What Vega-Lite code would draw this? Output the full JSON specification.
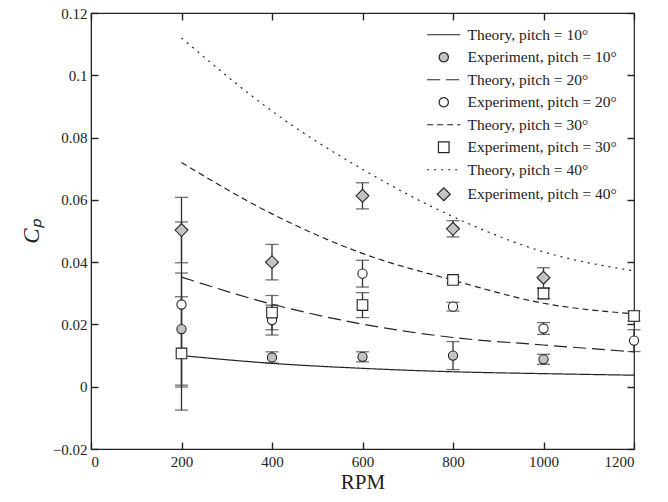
{
  "$schema": "https://vega.github.io/schema/vega-lite/v6.json",
  "autosize": {"type": "none"},
  "padding": {"left": 91, "top": 13, "right": 34, "bottom": 53},
  "width": 543,
  "height": 436,
  "background": "white",
  "config": {
    "view": {"stroke": "#222", "strokeWidth": 1.2},
    "axis": {
      "grid": false,
      "domainColor": "#222",
      "tickColor": "#222",
      "labelFont": "Liberation Serif",
      "labelFontSize": 15,
      "labelColor": "#222",
      "titleFont": "Liberation Serif",
      "titleFontWeight": "normal",
      "titleColor": "#222"
    },
    "legend": {
      "labelFont": "Liberation Serif",
      "labelFontSize": 15.5,
      "labelColor": "#222",
      "symbolStrokeColor": "#222",
      "symbolStrokeWidth": 1.2
    }
  },
  "datasets": {
    "theory": [
      {"rpm": 200, "cp": 0.0100, "s": "Theory, pitch = 10°"},
      {"rpm": 400, "cp": 0.0075, "s": "Theory, pitch = 10°"},
      {"rpm": 600, "cp": 0.0059, "s": "Theory, pitch = 10°"},
      {"rpm": 800, "cp": 0.0048, "s": "Theory, pitch = 10°"},
      {"rpm": 1000, "cp": 0.0042, "s": "Theory, pitch = 10°"},
      {"rpm": 1200, "cp": 0.0037, "s": "Theory, pitch = 10°"},
      {"rpm": 200, "cp": 0.0352, "s": "Theory, pitch = 20°"},
      {"rpm": 400, "cp": 0.0265, "s": "Theory, pitch = 20°"},
      {"rpm": 600, "cp": 0.0201, "s": "Theory, pitch = 20°"},
      {"rpm": 800, "cp": 0.0158, "s": "Theory, pitch = 20°"},
      {"rpm": 1000, "cp": 0.0134, "s": "Theory, pitch = 20°"},
      {"rpm": 1200, "cp": 0.0112, "s": "Theory, pitch = 20°"},
      {"rpm": 200, "cp": 0.0720, "s": "Theory, pitch = 30°"},
      {"rpm": 400, "cp": 0.0555, "s": "Theory, pitch = 30°"},
      {"rpm": 600, "cp": 0.0428, "s": "Theory, pitch = 30°"},
      {"rpm": 800, "cp": 0.0342, "s": "Theory, pitch = 30°"},
      {"rpm": 1000, "cp": 0.0268, "s": "Theory, pitch = 30°"},
      {"rpm": 1200, "cp": 0.0234, "s": "Theory, pitch = 30°"},
      {"rpm": 200, "cp": 0.1120, "s": "Theory, pitch = 40°"},
      {"rpm": 400, "cp": 0.0885, "s": "Theory, pitch = 40°"},
      {"rpm": 600, "cp": 0.0698, "s": "Theory, pitch = 40°"},
      {"rpm": 800, "cp": 0.0546, "s": "Theory, pitch = 40°"},
      {"rpm": 1000, "cp": 0.0433, "s": "Theory, pitch = 40°"},
      {"rpm": 1200, "cp": 0.0372, "s": "Theory, pitch = 40°"}
    ],
    "exp": [
      {"rpm": 200, "cp": 0.0185, "lo": 0.0005, "hi": 0.0365, "s": "Experiment, pitch = 10°"},
      {"rpm": 400, "cp": 0.0094, "lo": 0.0076, "hi": 0.0112, "s": "Experiment, pitch = 10°"},
      {"rpm": 600, "cp": 0.0096, "lo": 0.0080, "hi": 0.0112, "s": "Experiment, pitch = 10°"},
      {"rpm": 800, "cp": 0.0100, "lo": 0.0055, "hi": 0.0145, "s": "Experiment, pitch = 10°"},
      {"rpm": 1000, "cp": 0.0088, "lo": 0.0072, "hi": 0.0104, "s": "Experiment, pitch = 10°"},
      {"rpm": 200, "cp": 0.0264, "lo": -0.0001, "hi": 0.0529, "s": "Experiment, pitch = 20°"},
      {"rpm": 400, "cp": 0.0214, "lo": 0.0166, "hi": 0.0262, "s": "Experiment, pitch = 20°"},
      {"rpm": 600, "cp": 0.0363, "lo": 0.0320, "hi": 0.0406, "s": "Experiment, pitch = 20°"},
      {"rpm": 800, "cp": 0.0257, "lo": 0.0243, "hi": 0.0271, "s": "Experiment, pitch = 20°"},
      {"rpm": 1000, "cp": 0.0187, "lo": 0.0168, "hi": 0.0206, "s": "Experiment, pitch = 20°"},
      {"rpm": 1200, "cp": 0.0148, "lo": 0.0113, "hi": 0.0183, "s": "Experiment, pitch = 20°"},
      {"rpm": 200, "cp": 0.0107, "lo": -0.0075, "hi": 0.0289, "s": "Experiment, pitch = 30°"},
      {"rpm": 400, "cp": 0.0238, "lo": 0.0183, "hi": 0.0293, "s": "Experiment, pitch = 30°"},
      {"rpm": 600, "cp": 0.0262, "lo": 0.0222, "hi": 0.0302, "s": "Experiment, pitch = 30°"},
      {"rpm": 800, "cp": 0.0343, "lo": 0.0333, "hi": 0.0353, "s": "Experiment, pitch = 30°"},
      {"rpm": 1000, "cp": 0.0299, "lo": 0.0283, "hi": 0.0315, "s": "Experiment, pitch = 30°"},
      {"rpm": 1200, "cp": 0.0227, "lo": 0.0211, "hi": 0.0243, "s": "Experiment, pitch = 30°"},
      {"rpm": 200, "cp": 0.0503, "lo": 0.0398, "hi": 0.0608, "s": "Experiment, pitch = 40°"},
      {"rpm": 400, "cp": 0.0400, "lo": 0.0343, "hi": 0.0457, "s": "Experiment, pitch = 40°"},
      {"rpm": 600, "cp": 0.0613, "lo": 0.0571, "hi": 0.0655, "s": "Experiment, pitch = 40°"},
      {"rpm": 800, "cp": 0.0507, "lo": 0.0481, "hi": 0.0533, "s": "Experiment, pitch = 40°"},
      {"rpm": 1000, "cp": 0.0350, "lo": 0.0318, "hi": 0.0382, "s": "Experiment, pitch = 40°"}
    ]
  },
  "resolve": {"axis": {"x": "independent", "y": "independent"}},
  "layer": [
    {
      "data": {"name": "theory"},
      "mark": {"type": "line", "stroke": "#222", "strokeWidth": 1.2, "interpolate": "monotone"},
      "encoding": {
        "x": {"field": "rpm", "type": "quantitative", "scale": {"domain": [0, 1200], "nice": false},
              "axis": {"values": [0, 200, 400, 600, 800, 1000, 1200], "format": "d", "title": "RPM",
                       "labelFont": "Liberation Serif", "labelFontSize": 15, "titleFont": "Liberation Serif", "titleFontSize": 21,
                       "ticks": false, "labelPadding": 5, "titlePadding": 2}},
        "y": {"field": "cp", "type": "quantitative", "scale": {"domain": [-0.02, 0.12], "nice": false, "zero": false},
              "axis": {"values": [-0.02, 0, 0.02, 0.04, 0.06, 0.08, 0.1, 0.12], "format": ".2~f", "title": "Cₚ",
                       "labelFont": "Liberation Serif", "labelFontSize": 15, "titleFont": "Liberation Serif", "titleFontSize": 23, "titleFontStyle": "italic",
                       "ticks": false, "labelPadding": 4, "titlePadding": 9}},
        "strokeDash": {"field": "s", "type": "nominal",
          "scale": {"domain": ["Theory, pitch = 10°","Experiment, pitch = 10°","Theory, pitch = 20°","Experiment, pitch = 20°","Theory, pitch = 30°","Experiment, pitch = 30°","Theory, pitch = 40°","Experiment, pitch = 40°"],
                    "range": [[1, 0], [1, 0], [13, 6], [1, 0], [6, 4], [1, 0], [2, 5], [1, 0]]},
          "legend": {"title": null, "orient": "none", "legendX": 334, "legendY": 14, "rowPadding": 5.5, "symbolSize": 85, "symbolOffset": 11, "labelOffset": 16,
                     "encode": {"symbols": {"update": {"stroke": {"value": "#222"}, "strokeWidth": {"value": 1.2}}}}}}
      }
    },
    {
      "data": {"name": "exp"},
      "mark": {"type": "rule", "stroke": "#333", "strokeWidth": 1.3},
      "encoding": {
        "x": {"field": "rpm", "type": "quantitative", "axis": {"orient": "top", "offset": -436, "values": [0, 200, 400, 600, 800, 1000, 1200], "labels": false, "title": null, "ticks": true, "tickSize": 7, "tickWidth": 1.4, "tickColor": "#222", "domain": false}},
        "y": {"field": "lo", "type": "quantitative", "axis": {"orient": "right", "offset": -543, "values": [-0.02, 0, 0.02, 0.04, 0.06, 0.08, 0.1, 0.12], "labels": false, "title": null, "ticks": true, "tickSize": 7, "tickWidth": 1.4, "tickColor": "#222", "domain": false}},
        "y2": {"field": "hi"}
      }
    },
    {
      "data": {"name": "exp"},
      "mark": {"type": "tick", "orient": "horizontal", "size": 13, "thickness": 1.3, "color": "#333"},
      "encoding": {
        "x": {"field": "rpm", "type": "quantitative", "axis": {"orient": "bottom", "offset": -436, "values": [0, 200, 400, 600, 800, 1000, 1200], "labels": false, "title": null, "ticks": true, "tickSize": 7, "tickWidth": 1.4, "tickColor": "#222", "domain": false}},
        "y": {"field": "lo", "type": "quantitative", "axis": {"orient": "left", "offset": -543, "values": [-0.02, 0, 0.02, 0.04, 0.06, 0.08, 0.1, 0.12], "labels": false, "title": null, "ticks": true, "tickSize": 7, "tickWidth": 1.4, "tickColor": "#222", "domain": false}}
      }
    },
    {
      "data": {"name": "exp"},
      "mark": {"type": "tick", "orient": "horizontal", "size": 13, "thickness": 1.3, "color": "#333"},
      "encoding": {
        "x": {"field": "rpm", "type": "quantitative", "axis": null},
        "y": {"field": "hi", "type": "quantitative", "axis": null}
      }
    },
    {
      "data": {"name": "exp"},
      "mark": {"type": "point", "filled": true, "stroke": "#222", "strokeWidth": 1.1, "opacity": 1, "size": 85},
      "encoding": {
        "x": {"field": "rpm", "type": "quantitative", "axis": null},
        "y": {"field": "cp", "type": "quantitative", "axis": null},
        "shape": {"field": "s", "type": "nominal",
          "scale": {"domain": ["Theory, pitch = 10°","Experiment, pitch = 10°","Theory, pitch = 20°","Experiment, pitch = 20°","Theory, pitch = 30°","Experiment, pitch = 30°","Theory, pitch = 40°","Experiment, pitch = 40°"],
                    "range": ["M-3.6,0H3.6", "circle", "M-3.6,0H3.6", "circle", "M-3.6,0H3.6", "M-1.15,-1.15H1.15V1.15H-1.15Z", "M-3.6,0H3.6", "M-1.4,0L0,-1.4L1.4,0L0,1.4Z"]},
          "legend": {"title": null, "orient": "none", "legendX": 334, "legendY": 14, "rowPadding": 5.5, "symbolSize": 85, "symbolOffset": 11, "labelOffset": 16,
                     "encode": {"symbols": {"update": {"stroke": {"value": "#222"}, "strokeWidth": {"value": 1.2}}}}}},
        "fill": {"field": "s", "type": "nominal",
          "scale": {"domain": ["Theory, pitch = 10°","Experiment, pitch = 10°","Theory, pitch = 20°","Experiment, pitch = 20°","Theory, pitch = 30°","Experiment, pitch = 30°","Theory, pitch = 40°","Experiment, pitch = 40°"],
                    "range": ["transparent", "#c4c4c4", "transparent", "white", "transparent", "white", "transparent", "#c4c4c4"]},
          "legend": {"title": null, "orient": "none", "legendX": 334, "legendY": 14, "rowPadding": 5.5, "symbolSize": 85, "symbolOffset": 11, "labelOffset": 16,
                     "encode": {"symbols": {"update": {"stroke": {"value": "#222"}, "strokeWidth": {"value": 1.2}}}}}}
      }
    }
  ]
}
